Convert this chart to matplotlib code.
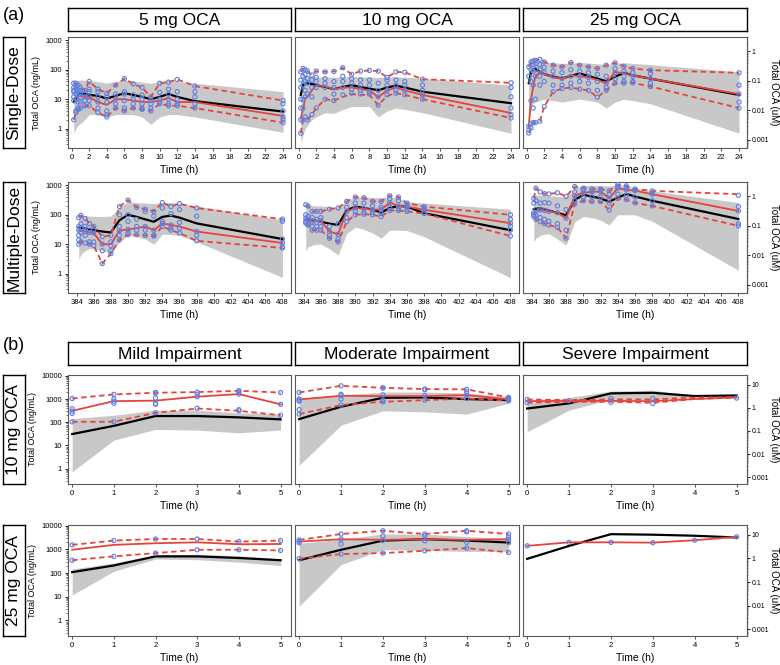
import matplotlib
matplotlib.use("Agg")
import matplotlib.pyplot as plt
from matplotlib.ticker import LogLocator, NullFormatter

plt.rcParams['font.family'] = ['Liberation Sans', 'DejaVu Sans']

MW = 420.6  # ng/mL per uM

sd_times = [0.25, 0.5, 0.75, 1, 1.5, 2, 3, 4, 5, 6, 7, 8, 9, 10, 11, 12, 14, 24]
md_times = [384.25, 384.5, 385, 385.5, 386, 387, 388, 389, 390, 391, 392, 393, 394, 395, 396, 398, 408]
hi_times = [0, 1, 2, 3, 4, 5]

# ---- (a) single dose 5 mg
sd5_med = [10, 12, 13, 13, 12, 12, 8, 6.4, 10, 10, 9, 8, 8, 9, 11, 8, 8, 2.7]
sd5_hi = [35, 35, 30, 25, 20, 40, 22, 16, 30, 50, 33, 25, 12, 35, 38, 47, 28, 9]
sd5_lo = [2, 3.5, 4.5, 5, 6, 6, 3.5, 2.5, 5, 4, 5, 4.5, 4, 7, 6, 6, 5, 1.6]
sd5_pred = [8, 11, 14, 15, 15, 14, 13, 10.5, 13, 16, 14, 12, 10, 12, 15, 12, 8.6, 3.8]
sd5_pi_hi = [40, 42, 44, 45, 44, 42, 40, 35, 40, 45, 42, 38, 35, 40, 45, 40, 35, 18]
sd5_pi_lo = [0.7, 1.0, 1.3, 1.5, 2, 3, 3, 2.5, 3, 3, 3, 2.5, 1.4, 2.5, 3, 3, 2.5, 0.75]
sd5_obs = [[35, 25, 20, 18, 12, 9, 2], [35, 28, 22, 15, 10, 4, 3.5], [30, 20, 15, 8, 5, 4.5],
           [25, 20, 16, 12, 8, 5], [20, 15, 12, 9, 6], [40, 22, 18, 12, 9, 6],
           [22, 18, 12, 8, 5, 3.5], [16, 12, 8, 4, 3, 2.5], [30, 15, 10, 7, 5],
           [50, 18, 15, 9, 5, 4], [33, 14, 10, 7, 5], [25, 14, 10, 7, 5, 4.5],
           [12, 9, 7, 5, 4], [35, 17, 10, 8, 7], [38, 22, 15, 10, 7, 6],
           [47, 18, 10, 7, 6], [28, 18, 12, 7, 5], [9, 7, 4, 2.5, 2, 1.6]]

# ---- (a) single dose 10 mg
sd10_med = [2.3, 4.4, 10.8, 12, 20, 30, 27, 22, 25, 25, 22, 20, 11.7, 20, 25, 20, 14, 3.4]
sd10_hi = [85, 110, 100, 90, 66, 90, 85, 88, 117, 70, 90, 95, 90, 55, 85, 82, 48, 36]
sd10_lo = [0.7, 2, 1.9, 2, 3, 5, 10, 9, 12, 15, 14, 14, 6.3, 13, 16, 14, 10, 2.3]
sd10_pred = [14, 30, 34, 35, 33, 30, 26, 22, 26, 30, 26, 23, 20, 25, 29, 25, 18, 7.3]
sd10_pi_hi = [60, 62, 62, 60, 60, 58, 58, 56, 58, 60, 58, 56, 55, 57, 58, 56, 52, 30]
sd10_pi_lo = [0.3, 0.6, 1.0, 1.3, 2, 2.5, 3.5, 3.3, 4.5, 5.6, 5.6, 5.6, 2.5, 4, 5, 4.5, 3.5, 0.7]
sd10_obs = [[85, 45, 25, 10, 5, 2, 0.7], [110, 60, 30, 10, 5, 2], [100, 70, 40, 20, 12, 2.5],
            [90, 50, 35, 15, 2], [66, 45, 25, 12, 3], [90, 55, 40, 25, 5],
            [85, 50, 35, 25, 10], [88, 40, 25, 15, 9], [117, 60, 40, 25, 14],
            [70, 50, 35, 22, 16], [90, 45, 30, 20, 15], [95, 45, 30, 18, 15],
            [90, 35, 20, 12, 6.3], [55, 45, 30, 20, 14], [85, 45, 30, 20, 16],
            [82, 40, 30, 20, 14], [48, 30, 20, 14, 10], [36, 25, 12, 5, 3, 2.3]]

# ---- (a) single dose 25 mg
sd25_med = [1.2, 9.5, 27, 58, 85, 71, 55, 50, 65, 60, 55, 45, 35, 85, 75, 65, 50, 15]
sd25_hi = [126, 185, 200, 210, 225, 185, 143, 126, 176, 143, 126, 110, 143, 172, 130, 110, 97, 79]
sd25_lo = [0.71, 1.05, 1.6, 1.6, 1.8, 5.6, 18, 23, 25, 22, 20, 11.7, 20, 35, 35, 36, 27, 5]
sd25_pred = [35, 85, 100, 110, 85, 71, 58, 51, 62, 75, 62, 50, 41, 58, 79, 65, 50, 14]
sd25_pi_hi = [180, 180, 185, 190, 190, 185, 175, 165, 170, 175, 170, 160, 150, 165, 175, 165, 150, 85]
sd25_pi_lo = [2, 5, 7, 8, 9, 10, 9, 8, 9, 10, 9, 8, 5, 8, 10, 9, 7, 0.7]
sd25_obs = [[126, 60, 1.2, 0.9, 0.71], [185, 100, 40, 9, 1.5, 1.05], [200, 150, 90, 30, 5, 1.6],
            [210, 160, 100, 60, 10, 1.6], [225, 150, 100, 60, 30, 1.8], [185, 120, 80, 40, 5.6],
            [143, 90, 60, 30, 18], [126, 80, 50, 30, 23], [176, 100, 60, 35, 25],
            [143, 90, 60, 40, 22], [126, 80, 55, 35, 20], [110, 70, 40, 20, 11.7],
            [143, 60, 35, 25, 20], [172, 110, 80, 50, 35], [130, 90, 60, 40, 35],
            [110, 80, 60, 40, 36], [97, 75, 50, 35, 27], [79, 30, 15, 8, 5]]

# ---- (a) multiple dose 5 mg
md5_med = [30, 28, 27, 25, 24, 10, 10, 29, 32, 35, 40, 30, 51, 45, 40, 27, 11]
md5_hi = [80, 95, 75, 50, 40, 18, 20, 190, 316, 180, 155, 130, 260, 190, 240, 170, 71]
md5_lo = [10, 12, 11, 10, 9, 2.2, 4.8, 14, 21, 21, 20, 19, 40, 30, 24, 13, 7.5]
md5_pred = [37, 36, 34, 32, 30, 27, 25, 65, 100, 85, 70, 58, 85, 94, 80, 51, 15]
md5_pi_hi = [85, 90, 90, 90, 88, 88, 90, 180, 280, 260, 250, 240, 260, 260, 250, 200, 67]
md5_pi_lo = [3, 4.5, 6, 7, 7, 6, 5, 12, 20, 18, 15, 10, 22, 21, 20, 12, 0.75]
md5_obs = [[80, 40, 30, 20, 14, 10], [95, 50, 35, 25, 12], [75, 40, 27, 20, 11],
           [50, 30, 25, 12, 10], [40, 30, 24, 12, 9], [18, 10, 6, 2.2], [20, 12, 9, 6, 4.8],
           [190, 100, 40, 29, 20, 14], [316, 100, 60, 32, 25, 21], [180, 70, 40, 30, 21],
           [155, 130, 40, 30, 20], [130, 90, 30, 20, 19], [260, 170, 60, 51, 40],
           [190, 110, 45, 35, 30], [240, 150, 55, 35, 24], [170, 90, 27, 20, 13],
           [71, 60, 15, 11, 8, 7.5]]

# ---- (a) multiple dose 10 mg
md10_med = [76, 70, 60, 60, 63, 27, 22, 130, 170, 160, 150, 150, 260, 200, 190, 148, 52]
md10_hi = [220, 200, 130, 130, 130, 155, 170, 285, 400, 380, 285, 285, 445, 400, 250, 190, 100]
md10_lo = [52, 45, 30, 30, 30, 16, 12, 58, 100, 105, 100, 87, 140, 140, 130, 110, 19]
md10_pred = [70, 68, 67, 62, 58, 50, 45, 140, 190, 170, 150, 120, 170, 200, 190, 113, 30]
md10_pi_hi = [220, 215, 205, 200, 200, 190, 180, 300, 400, 400, 390, 380, 400, 380, 280, 250, 155]
md10_pi_lo = [6, 8, 9.3, 10, 10, 7, 4.3, 23, 38, 32, 24, 16, 30, 30, 29, 18, 0.73]
md10_obs = [[220, 100, 76, 60, 52], [200, 90, 70, 50, 45], [130, 80, 60, 40, 30],
            [130, 70, 55, 40, 30], [130, 80, 63, 40, 30], [155, 40, 27, 20, 16],
            [170, 50, 22, 15, 12], [285, 180, 130, 80, 58], [400, 250, 170, 130, 100],
            [380, 250, 160, 120, 105], [285, 200, 150, 120, 100], [285, 180, 150, 110, 87],
            [445, 350, 260, 180, 140], [400, 300, 200, 160, 140], [250, 220, 190, 150, 130],
            [190, 160, 148, 120, 110], [100, 70, 52, 40, 30, 19]]

# ---- (a) multiple dose 25 mg
md25_med = [118, 130, 145, 140, 130, 118, 76, 436, 570, 600, 620, 360, 800, 700, 660, 500, 135]
md25_hi = [360, 800, 600, 520, 510, 560, 420, 910, 800, 750, 750, 650, 1050, 960, 750, 650, 500]
md25_lo = [87, 70, 58, 50, 45, 37, 16, 235, 300, 280, 280, 145, 360, 330, 255, 200, 42]
md25_pred = [155, 162, 165, 155, 140, 115, 97, 320, 475, 420, 360, 280, 380, 510, 420, 300, 72]
md25_pi_hi = [480, 470, 460, 450, 440, 420, 400, 800, 1000, 1000, 980, 950, 1050, 1000, 800, 650, 260]
md25_pi_lo = [12, 16, 20, 22, 23, 15, 9.3, 58, 87, 80, 65, 45, 100, 100, 100, 60, 1.3]
md25_obs = [[360, 250, 118, 100, 87], [800, 300, 150, 100, 70], [600, 250, 145, 80, 58],
            [520, 260, 140, 70, 50], [510, 250, 130, 60, 45], [560, 200, 118, 50, 37],
            [420, 150, 76, 30, 16], [910, 600, 436, 300, 235], [800, 700, 570, 400, 300],
            [750, 650, 600, 400, 280], [750, 700, 620, 400, 280], [650, 500, 360, 250, 145],
            [1050, 900, 800, 500, 360], [960, 850, 700, 450, 330], [750, 700, 660, 400, 255],
            [650, 550, 500, 300, 200], [460, 190, 135, 50, 42]]

# ---- (b) hepatic impairment, 10 mg
mild10_med = [310, 810, 850, 1260, 1630, 590]
mild10_hi = [1050, 1580, 1860, 1990, 2250, 1900]
mild10_lo = [105, 105, 255, 390, 310, 200]
mild10_pred = [31, 70, 185, 185, 162, 133]
mild10_pi_hi = [145, 200, 330, 330, 255, 230]
mild10_pi_lo = [0.74, 17, 49, 46, 35, 46]
mild10_obs = [[1050, 380, 300, 240, 105], [1580, 1000, 800, 650, 105], [1900, 1800, 1100, 650, 600, 255],
              [1950, 1600, 1260, 400], [2300, 2000, 1630, 350, 310], [1900, 590, 200]]

mod10_med = [960, 1380, 1330, 1330, 1480, 960]
mod10_hi = [1920, 3700, 3030, 2680, 2600, 1170]
mod10_lo = [225, 550, 760, 890, 1050, 840]
mod10_pred = [137, 465, 1130, 1170, 990, 900]
mod10_pi_hi = [1060, 1500, 2000, 2000, 1800, 1250]
mod10_pi_lo = [1.4, 75, 310, 280, 225, 650]
mod10_obs = [[1920, 1000, 900, 800, 350, 225], [3700, 1600, 1400, 1000, 550], [3030, 3000, 1500, 900, 760],
             [2680, 2500, 1400, 890], [2600, 2000, 1500, 1050], [1170, 1050, 960, 900, 840]]

sev10_med = [810, 830, 830, 810, 1000, 1170]
sev10_hi = [960, 900, 960, 960, 1170, 1170]
sev10_lo = [690, 760, 760, 690, 1000, 1170]
sev10_pred = [390, 650, 1750, 1850, 1340, 1420]
sev10_pi_hi = [650, 1170, 2200, 2400, 1400, 1500]
sev10_pi_lo = [39, 330, 960, 960, 1250, 1350]
sev10_obs = [[960, 700], [850], [720, 1050], [640, 1050], [], [1100]]

# ---- (b) hepatic impairment, 25 mg
mild25_med = [970, 1560, 1830, 2000, 1660, 1700]
mild25_hi = [1560, 2370, 2770, 2770, 2150, 2370]
mild25_lo = [350, 510, 700, 970, 970, 910]
mild25_pred = [110, 210, 510, 510, 435, 350]
mild25_pi_hi = [150, 270, 600, 630, 545, 400]
mild25_pi_lo = [12, 120, 395, 370, 290, 210]
mild25_obs = [[1560, 350], [2370, 510], [2770, 700], [2770, 970], [2150, 970], [2370, 910]]

mod25_med = [2150, 2700, 2550, 2700, 2550, 2700]
mod25_hi = [2520, 4500, 6160, 4500, 6160, 4500]
mod25_lo = [410, 640, 700, 880, 1140, 750]
mod25_pred = [350, 970, 2370, 2700, 2370, 1960]
mod25_pi_hi = [1820, 2700, 4500, 4500, 3500, 2950]
mod25_pi_lo = [4, 230, 970, 910, 830, 830]
mod25_obs = [[2520, 2200, 1900, 410], [4500, 2700, 1700, 640], [6160, 3700, 2400, 700],
             [4500, 3800, 2300, 880], [6160, 5500, 2000, 1140], [4500, 3300, 2600, 1900, 750]]

sev25_med = [1420, 2000, 2000, 1940, 2450, 3400]
sev25_pred = [400, 1410, 4430, 4200, 3800, 3200]
sev25_obs = [[1420], [2000], [2000], [1940], [2450], [3400]]

col_titles_a = ['5 mg OCA', '10 mg OCA', '25 mg OCA']
col_titles_b = ['Mild Impairment', 'Moderate Impairment', 'Severe Impairment']
row_titles = ['Single-Dose', 'Multiple-Dose', '10 mg OCA', '25 mg OCA']

panels = [
    [(sd_times, sd5_med, sd5_hi, sd5_lo, sd5_pred, sd5_pi_hi, sd5_pi_lo, sd5_obs),
     (sd_times, sd10_med, sd10_hi, sd10_lo, sd10_pred, sd10_pi_hi, sd10_pi_lo, sd10_obs),
     (sd_times, sd25_med, sd25_hi, sd25_lo, sd25_pred, sd25_pi_hi, sd25_pi_lo, sd25_obs)],
    [(md_times, md5_med, md5_hi, md5_lo, md5_pred, md5_pi_hi, md5_pi_lo, md5_obs),
     (md_times, md10_med, md10_hi, md10_lo, md10_pred, md10_pi_hi, md10_pi_lo, md10_obs),
     (md_times, md25_med, md25_hi, md25_lo, md25_pred, md25_pi_hi, md25_pi_lo, md25_obs)],
    [(hi_times, mild10_med, mild10_hi, mild10_lo, mild10_pred, mild10_pi_hi, mild10_pi_lo, mild10_obs),
     (hi_times, mod10_med, mod10_hi, mod10_lo, mod10_pred, mod10_pi_hi, mod10_pi_lo, mod10_obs),
     (hi_times, sev10_med, sev10_hi, sev10_lo, sev10_pred, sev10_pi_hi, sev10_pi_lo, sev10_obs)],
    [(hi_times, mild25_med, mild25_hi, mild25_lo, mild25_pred, mild25_pi_hi, mild25_pi_lo, mild25_obs),
     (hi_times, mod25_med, mod25_hi, mod25_lo, mod25_pred, mod25_pi_hi, mod25_pi_lo, mod25_obs),
     (hi_times, sev25_med, None, None, sev25_pred, None, None, sev25_obs)],
]

W, H = 780, 665
RED = '#e8433b'
BLUE = '#5f7fe0'
GREY = '#c8c8c8'
FRAME = '#5a5a5a'

cols_px = [(68, 291), (295, 519), (523, 747)]
rows_px = [(37, 148), (182, 293), (375, 484), (525, 636)]
strips_px = [(8, 31), (342, 365)]


def box(x0, y0, x1, y1):
    return [x0 / W, 1 - y1 / H, (x1 - x0) / W, (y1 - y0) / H]


fig = plt.figure(figsize=(7.8, 6.65), dpi=100)

# strips with column titles
for s, titles in zip(strips_px, [col_titles_a, col_titles_b]):
    for (x0, x1), t in zip(cols_px, titles):
        sa = fig.add_axes(box(x0, s[0], x1, s[1]))
        sa.set_xticks([])
        sa.set_yticks([])
        for sp in sa.spines.values():
            sp.set_linewidth(1.0)
        sa.text(0.5, 0.45, t, ha='center', va='center', fontsize=12.5, transform=sa.transAxes)

# row title boxes
for (y0, y1), t in zip(rows_px, row_titles):
    ra = fig.add_axes(box(3, y0, 25, y1))
    ra.set_xticks([])
    ra.set_yticks([])
    for sp in ra.spines.values():
        sp.set_linewidth(1.0)
    ra.text(0.5, 0.5, t, ha='center', va='center', rotation=90, fontsize=12.5, transform=ra.transAxes)

fig.text(14 / W, 1 - 16 / H, '(a)', ha='center', va='center', fontsize=13)
fig.text(14 / W, 1 - 346 / H, '(b)', ha='center', va='center', fontsize=13)

for r, row in enumerate(panels):
    (y0, y1) = rows_px[r]
    for c, p in enumerate(row):
        t, med, hi, lo, pred, pi_hi, pi_lo, obs = p
        x0, x1 = cols_px[c]
        ax = fig.add_axes(box(x0, y0, x1, y1))
        ax.set_yscale('log')
        if pi_hi is not None:
            ax.fill_between(t, pi_lo, pi_hi, color=GREY, lw=0, zorder=1)
        ax.plot(t, pred, color='black', lw=1.6, zorder=3)
        ax.plot(t, med, color=RED, lw=1.3, zorder=4)
        if hi is not None:
            ax.plot(t, hi, color=RED, lw=1.3, ls=(0, (3, 2)), zorder=4)
            ax.plot(t, lo, color=RED, lw=1.3, ls=(0, (3, 2)), zorder=4)
        for ti, vals in zip(t, obs):
            ax.scatter([ti] * len(vals), vals, s=9, facecolors='none', edgecolors=BLUE,
                       linewidths=0.8, zorder=5)

        if r == 0:
            ax.set_xlim(-0.4, 24.9)
            ax.set_xticks(range(0, 25, 2))
        elif r == 1:
            ax.set_xlim(383.0, 409.0)
            ax.set_xticks(range(384, 409, 2))
        else:
            ax.set_xlim(-0.1, 5.25)
            ax.set_xticks(hi_times)

        if r < 2:
            ax.set_ylim(0.22, 1300)
            yt = [1, 10, 100, 1000]
            ut = [0.001, 0.01, 0.1, 1]
        else:
            ax.set_ylim(0.22, 10800)
            yt = [1, 10, 100, 1000, 10000]
            ut = [0.001, 0.01, 0.1, 1, 10]

        for sp in ax.spines.values():
            sp.set_color(FRAME)
            sp.set_linewidth(0.8)
        ax.tick_params(axis='x', direction='out', length=2.5, width=0.6, labelsize=5.5, pad=2,
                       colors='#333333', labelcolor='black')
        ax.set_xlabel('Time (h)', fontsize=7.5, labelpad=3)

        if c == 0:
            ax.set_yticks(yt)
            ax.set_yticklabels([str(v) for v in yt])
            ax.yaxis.set_minor_locator(LogLocator(base=10, subs=range(2, 10)))
            ax.yaxis.set_minor_formatter(NullFormatter())
            ax.tick_params(axis='y', which='major', direction='out', length=2.5, width=0.6,
                           labelsize=5.5, pad=2)
            ax.tick_params(axis='y', which='minor', direction='out', length=1.2, width=0.4)
            ax.set_ylabel('Total OCA (ng/mL)', fontsize=6.5, labelpad=3)
        else:
            ax.tick_params(axis='y', which='both', left=False, labelleft=False)

        if c == 2:
            sec = ax.secondary_yaxis('right', functions=(lambda v: v / MW, lambda u: u * MW))
            sec.set_yticks(ut)
            sec.set_yticklabels([('%g' % v) for v in ut])
            sec.yaxis.set_minor_locator(LogLocator(base=10, subs=range(2, 10)))
            sec.yaxis.set_minor_formatter(NullFormatter())
            sec.tick_params(axis='y', which='major', direction='out', length=2.0, width=0.6,
                            labelsize=5, pad=1.5)
            sec.tick_params(axis='y', which='minor', direction='out', length=1.0, width=0.4)
            sec.spines['right'].set_color(FRAME)
            sec.spines['right'].set_linewidth(0.8)
            fig.text(774 / W, 1 - (y0 + y1) / 2 / H, 'Total OCA (uM)', rotation=270,
                     ha='center', va='center', fontsize=7)

fig.savefig('out.png', dpi=100)
